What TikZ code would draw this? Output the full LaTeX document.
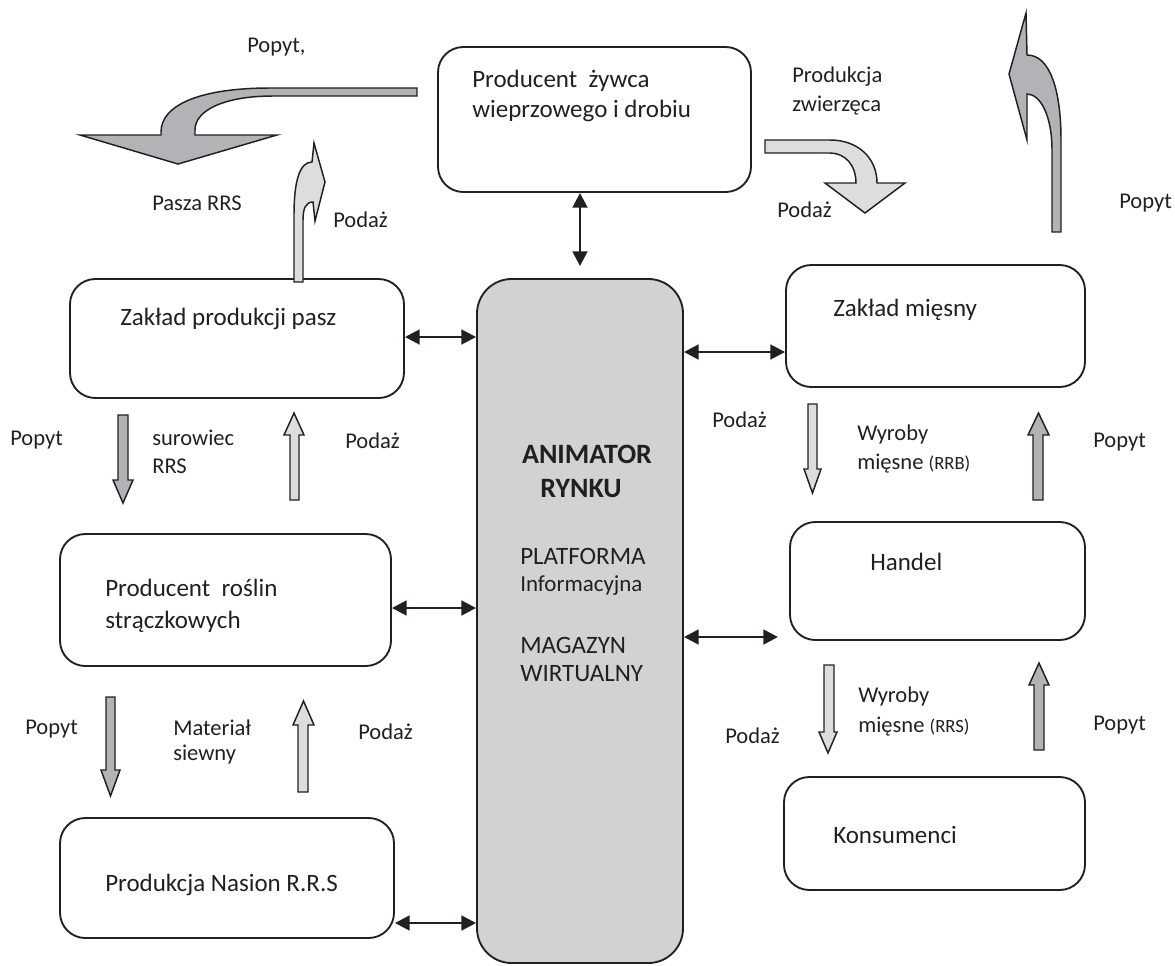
\documentclass[tikz,border=0pt]{standalone}
\usepackage{fontspec}
\setmainfont{Carlito}
\usetikzlibrary{arrows.meta,fit}
\definecolor{darkg}{HTML}{B1B3B6}
\definecolor{lightg}{HTML}{DCDDDF}
\definecolor{animg}{HTML}{D1D2D4}
\definecolor{ink}{HTML}{231F20}
\tikzset{
  box/.style={draw=ink, line width=1.4pt, rounded corners=19pt, inner sep=0pt},
  dbl/.style={{Triangle[length=11pt,width=11pt]}-{Triangle[length=11pt,width=11pt]}, line width=2pt, draw=ink},
  blkd/.style={draw=ink, line width=1.1pt, fill=darkg, line join=miter},
  blkl/.style={draw=ink, line width=1.1pt, fill=lightg, line join=miter},
  lbl/.style={anchor=base west, inner sep=0pt, text=ink, font=\fontsize{16.9pt}{20pt}\selectfont},
  btxt/.style={anchor=base west, inner sep=0pt, text=ink, font=\fontsize{18.75pt}{22pt}\selectfont},
  bold/.style={anchor=base, inner sep=0pt, text=ink, font=\fontsize{21pt}{24pt}\selectfont\bfseries},
}
\newcommand\vblk[8]{\draw[#1] (#2,#4) -- (#3,#4) -- (#3,#5) -- (#7,#5) -- ({(#6+#7)/2},#8) -- (#6,#5) -- (#2,#5) -- cycle;}
\begin{document}
\begin{tikzpicture}[x=0.75pt,y=-0.75pt]
\useasboundingbox (0,0) rectangle (1175,965);

% corner coordinates of boxes
\coordinate (pzA) at (438,47);   \coordinate (pzB) at (751,192);
\coordinate (paA) at (70,279);   \coordinate (paB) at (404,398);
\coordinate (roA) at (60,534);   \coordinate (roB) at (391,666);
\coordinate (naA) at (60,818);   \coordinate (naB) at (394,938);
\coordinate (anA) at (477,279);  \coordinate (anB) at (683,963);
\coordinate (miA) at (786,265);  \coordinate (miB) at (1085,387);
\coordinate (haA) at (790,522);  \coordinate (haB) at (1085,640);
\coordinate (koA) at (784,777);  \coordinate (koB) at (1085,890);

\node[box, fit=(pzA)(pzB)] (pz) {};
\node[box, fit=(paA)(paB)] (pa) {};
\node[box, fit=(roA)(roB)] (ro) {};
\node[box, fit=(naA)(naB)] (na) {};
\node[box, fit=(anA)(anB), fill=animg, rounded corners=26pt] (an) {};
\node[box, fit=(miA)(miB)] (mi) {};
\node[box, fit=(haA)(haB)] (ha) {};
\node[box, fit=(koA)(koB)] (ko) {};

% double arrows
\coordinate (ypa) at (0,337);
\coordinate (yro) at (0,608);
\coordinate (yna) at (0,923);
\coordinate (ymi) at (0,352);
\coordinate (yha) at (0,637);
\coordinate (hae) at (778,637);
\draw[dbl] (an.north |- pz.south) -- ([yshift=9pt]an.north);
\draw[dbl] (pa.east |- ypa) -- (an.west |- ypa);
\draw[dbl] (ro.east |- yro) -- (an.west |- yro);
\draw[dbl] (na.east |- yna) -- (an.west |- yna);
\draw[dbl] (an.east |- ymi) -- (mi.west |- ymi);
\draw[dbl] (an.east |- yha) -- (hae);

% straight block arrows
\vblk{blkd}{118}{128}{415}{480}{113}{133}{503}
\vblk{blkl}{290}{299}{500}{435}{284}{304}{413}
\vblk{blkd}{106}{115}{697}{770}{101}{120}{796}
\vblk{blkl}{298}{308}{792}{725}{293}{314}{701}
\vblk{blkl}{808}{817}{404}{469}{804}{821}{493}
\vblk{blkd}{1033}{1043}{500}{435}{1028}{1049}{413}
\vblk{blkl}{824}{834}{665}{732}{819}{837}{753}
\vblk{blkd}{1034}{1044}{750}{685}{1029}{1049}{663}

% curved block arrows
\draw[blkd] (417,88) -- (270,88) .. controls (200,88) and (161,105) .. (161,132) -- (161,135) -- (80,135) -- (178,164) -- (277,135) -- (195,135) -- (195,130) .. controls (195,110) and (225,96) .. (273,96) -- (417,96) -- cycle;
\draw[blkl] (294,282) -- (294,215) .. controls (294,180) and (300,162) .. (312,162) -- (314,143) -- (325,182) -- (315,221) -- (313,202) .. controls (306,202) and (303,208) .. (303,220) -- (303,282) -- cycle;
\draw[blkl] (765,140) -- (830,140) .. controls (858,140) and (877,158) .. (877,183) -- (905,183) -- (865,213) -- (825,183) -- (856,183) .. controls (856,165) and (845,153) .. (830,153) -- (765,153) -- cycle;
\draw[blkd] (1052,232) -- (1052,150) .. controls (1052,115) and (1040,94) .. (1027,94) -- (1027,140) -- (1009,74) -- (1026,13) -- (1027,55) .. controls (1050,55) and (1061,90) .. (1061,140) -- (1061,232) -- cycle;

% box texts
\node[btxt] (tpz1) at (472,87) {Producent\ \ żywca};
\node[btxt] (tpz2) at (472,117) {wieprzowego i drobiu};
\node[btxt] (tpa) at (120,325) {Zakład produkcji pasz};
\node[btxt] (tro1) at (105,596) {Producent\ \ roślin};
\node[btxt] (tro2) at (105,628) {strączkowych};
\node[btxt] (tna) at (105,891) {Produkcja Nasion R.R.S};
\node[btxt] (tmi) at (833,316) {Zakład mięsny};
\node[btxt] (tha) at (870,570) {Handel};
\node[btxt] (tko) at (833,843) {Konsumenci};

% centre texts
\node[bold] (ta1) at (587,463) {ANIMATOR};
\node[bold] (ta2) at (581,497) {RYNKU};
\node[btxt] (ta3) at (520,564) {PLATFORMA};
\node[btxt, font=\fontsize{17.2pt}{20pt}\selectfont] (ta4) at (520,591) {Informacyjna};
\node[btxt] (ta5) at (520,653) {MAGAZYN};
\node[btxt] (ta6) at (520,681) {WIRTUALNY};

% labels
\node[lbl] (l1) at (247,52) {Popyt,};
\node[lbl] (l2) at (152,210) {Pasza RRS};
\node[lbl] (l3) at (333,227) {Podaż};
\node[lbl] (l4) at (792,82) {Produkcja};
\node[lbl] (l5) at (792,111) {zwierzęca};
\node[lbl] (l6) at (777,217) {Podaż};
\node[lbl] (l7) at (1119,208) {Popyt};
\node[lbl] (l8) at (10,445) {Popyt};
\node[lbl] (l9) at (152,445) {surowiec};
\node[lbl] (l10) at (152,473) {RRS};
\node[lbl] (l11) at (345,448) {Podaż};
\node[lbl] (l12) at (25,734) {Popyt};
\node[lbl] (l13) at (173,735) {Materiał};
\node[lbl] (l14) at (173,760) {siewny};
\node[lbl] (l15) at (358,739) {Podaż};
\node[lbl] (l16) at (712,427) {Podaż};
\node[lbl] (l17) at (857,440) {Wyroby};
\node[lbl] (l18) at (857,469) {mięsne {\fontsize{14pt}{17pt}\selectfont(RRB)}};
\node[lbl] (l19) at (1093,447) {Popyt};
\node[lbl] (l20) at (725,743) {Podaż};
\node[lbl] (l21) at (858,702) {Wyroby};
\node[lbl] (l22) at (858,732) {mięsne {\fontsize{14pt}{17pt}\selectfont(RRS)}};
\node[lbl] (l23) at (1093,730) {Popyt};
\end{tikzpicture}
\end{document}
